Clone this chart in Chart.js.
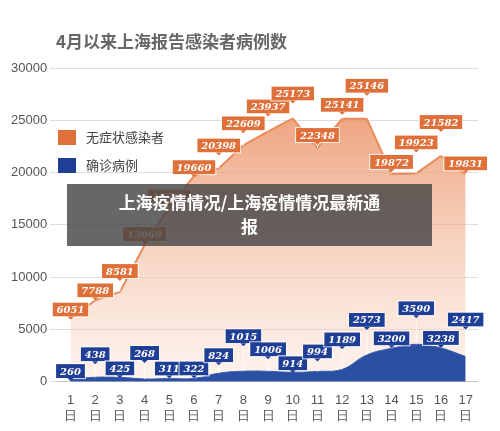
<!DOCTYPE html>
<html><head><meta charset="utf-8">
<script src="https://cdn.jsdelivr.net/npm/chart.js@4/dist/chart.umd.min.js"></script>
<style>
body{margin:0;background:#fff;font-family:"Noto Sans CJK SC",sans-serif}
#wrap{position:relative;width:500px;height:431px}
#title{position:absolute;left:56px;top:28px;font-size:17px;font-weight:bold;color:#666}
#legend{position:absolute;left:58px;top:123px;font-size:13px;color:#444;line-height:28px}
#legend span{display:inline-block;width:18px;height:15px;vertical-align:-3px;margin-right:10px}
#mark{position:absolute;left:67px;top:184px;width:365px;height:62px;background:rgba(70,70,70,0.82);color:#fff;font-size:17px;font-weight:bold;text-align:center;line-height:24px;padding-top:6px;box-sizing:border-box}
</style></head><body>
<div id="wrap">
<div id="title">4月以来上海报告感染者病例数</div>
<canvas id="c" width="500" height="431"></canvas>
<div id="legend"><div><span style="background:#e0703a"></span>无症状感染者</div><div><span style="background:#1f3f96"></span>确诊病例</div></div>
<div id="mark">上海疫情情况/上海疫情情况最新通<br>报</div>
</div>
<script>
const days = ['1','2','3','4','5','6','7','8','9','10','11','12','13','14','15','16','17'];
const asymptomatic = [6051,7788,8581,13068,16766,19660,20398,22609,23937,25173,22348,25141,25146,19872,19923,21582,19831];
const confirmed = [260,438,425,268,311,322,824,1015,1006,914,994,1189,2573,3200,3590,3238,2417];
const yTicks = [0,5000,10000,15000,20000,25000,30000];

// label lift above the point, px (label placement only)
const liftOrange = [9,10,21,11,10,9,23,22,25,25,13,14,33,12,31,34,11];
const liftBlue = [8,23,9,26,10,10,18,35,22,9,20,30,35,10,36,10,37];

const labelPlugin = {
  id: 'boxLabels',
  afterDatasetsDraw(chart) {
    const c = chart.ctx;
    c.save();
    c.font = 'italic bold 10px "DejaVu Serif", serif';
    c.textAlign = 'center';
    c.textBaseline = 'middle';
    chart.data.datasets.forEach((ds, di) => {
      const meta = chart.getDatasetMeta(di);
      const lift = di === 0 ? liftOrange : liftBlue;
      const col = di === 0 ? '#e0703a' : '#1f3f96';
      meta.data.forEach((pt, i) => {
        const txt = String(ds.data[i]);
        const w = c.measureText(txt).width + 8, h = 14;
        const y = pt.y - lift[i];
        c.strokeStyle = 'rgba(255,255,255,0.8)';
        c.lineWidth = 1;
        c.beginPath(); c.moveTo(pt.x, y + h / 2); c.lineTo(pt.x, pt.y); c.stroke();
        c.fillStyle = col;
        c.fillRect(pt.x - w / 2, y - h / 2, w, h);
        c.strokeRect(pt.x - w / 2 - 0.5, y - h / 2 - 0.5, w + 1, h + 1);
        c.beginPath();
        c.moveTo(pt.x - 3, y + h / 2); c.lineTo(pt.x + 3, y + h / 2); c.lineTo(pt.x, y + h / 2 + 3);
        c.fill();
        c.fillStyle = '#fff';
        c.fillText(txt, pt.x, y + 1);
      });
    });
    c.restore();
  }
};

const ctx = document.getElementById('c');
new Chart(ctx, {
  type: 'line',
  data: {
    labels: days.map((d) => [d, '日']),
    datasets: [
      {
        label: '无症状感染者', data: asymptomatic, borderColor: '#e98b5b', borderWidth: 2,
        pointRadius: 0, tension: 0, fill: 'origin', order: 2,
        backgroundColor(context) {
          const a = context.chart.chartArea;
          if (!a) return '#f3b08a';
          const g = context.chart.ctx.createLinearGradient(0, a.top, 0, a.bottom);
          g.addColorStop(0, 'rgba(232,130,80,0.9)');
          g.addColorStop(1, 'rgba(250,225,210,0.4)');
          return g;
        },
      },
      {
        label: '确诊病例', data: confirmed, borderColor: '#3a5fb0', backgroundColor: '#2b4fa3',
        borderWidth: 1, pointRadius: 0, tension: 0.4, fill: 'origin', order: 1,
      },
    ],
  },
  options: {
    responsive: false, animation: false,
    layout: { padding: { top: 68, right: 22, left: 8, bottom: 4 } },
    scales: {
      x: {
        offset: true, grid: { display: false },
        ticks: { color: '#555', font: { size: 13 }, maxRotation: 0, autoSkip: false },
      },
      y: {
        min: 0, max: 30000, afterBuildTicks(s) { s.ticks = yTicks.map((v) => ({ value: v })); },
        grid: { color: '#ddd' }, border: { display: false },
        ticks: { color: '#555', font: { size: 13 }, callback: (v) => String(v) },
      },
    },
    plugins: { legend: { display: false }, tooltip: { enabled: false } },
  },
  plugins: [labelPlugin],
});
</script>
</body></html>
